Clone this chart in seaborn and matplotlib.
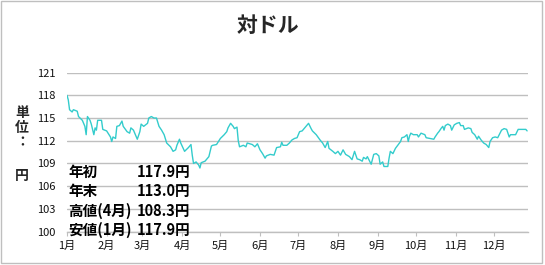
import matplotlib
matplotlib.use("Agg")
import matplotlib.pyplot as plt
from matplotlib.patches import Rectangle
import seaborn as sns
import pandas as pd

# ---- data ----
days = [0, 1, 2, 4, 5, 8, 9, 12, 13, 14, 15, 16, 18, 19, 21, 22, 23, 24, 27, 28,
        31, 34, 35, 36, 38, 39, 41, 43, 44, 47, 49, 50, 52, 55, 57, 58, 60, 63, 64, 66,
        68, 70, 72, 74, 76, 78, 81, 83, 85, 86, 88, 89, 92, 95, 97, 98, 99, 101, 103, 104,
        105, 108, 111, 113, 114, 117, 120, 123, 125, 126, 128, 130, 131, 133, 134, 135, 138, 140, 141, 145,
        147, 149, 151, 153, 155, 156, 159, 162, 164, 167, 168, 169, 172, 174, 176, 178, 180, 182, 184, 186,
        189, 191, 192, 195, 198, 200, 202, 204, 205, 208, 210, 212, 214, 216, 218, 221, 223, 225, 227, 229,
        231, 232, 234, 235, 238, 240, 242, 244, 245, 247, 248, 251, 252, 253, 255, 257, 261, 262, 264, 266,
        267, 268, 269, 271, 274, 275, 277, 280, 281, 284, 287, 288, 290, 291, 293, 294, 295, 296, 298, 300,
        301, 303, 305, 307, 308, 310, 311, 314, 316, 317, 319, 321, 322, 324, 326, 328, 330, 331, 333, 335,
        337, 340, 342, 344, 346, 347, 351, 353, 357, 359, 360]
rates = [118.0, 117.4, 116.1, 115.8, 116.1, 115.9, 115.2, 114.7, 114.3, 113.9, 112.8, 115.2, 114.7, 114.2, 112.8, 113.7, 113.4, 114.7, 114.7, 113.5,
         113.3, 112.5, 111.9, 112.5, 112.3, 113.9, 114.0, 114.6, 113.9, 113.2, 113.0, 113.7, 113.4, 112.2, 113.2, 114.2, 113.9, 114.3, 115.0, 115.2,
         115.0, 115.0, 113.9, 113.4, 112.8, 111.7, 111.2, 110.6, 110.8, 111.4, 112.2, 111.7, 110.6, 111.1, 111.5, 110.1, 109.0, 109.2, 108.8, 108.4,
         109.1, 109.3, 109.9, 111.3, 111.4, 111.5, 112.3, 112.8, 113.2, 113.7, 114.3, 113.9, 113.6, 113.8, 112.0, 111.2, 111.4, 111.2, 111.7, 111.5,
         111.2, 111.6, 110.8, 110.3, 109.7, 110.0, 110.2, 110.1, 111.1, 111.2, 111.8, 111.4, 111.4, 111.7, 112.1, 112.3, 112.4, 113.2, 113.3, 113.7,
         114.3, 113.6, 113.3, 112.8, 112.1, 111.7, 111.1, 111.9, 111.0, 110.6, 110.3, 110.6, 110.1, 110.8, 110.2, 109.9, 109.5, 110.6, 109.6, 109.5,
         109.3, 109.8, 109.6, 109.9, 108.9, 110.2, 110.3, 110.0, 108.9, 109.2, 108.6, 108.6, 109.7, 110.6, 110.3, 111.0, 111.9, 112.4, 112.5, 112.8,
         111.9, 112.6, 113.0, 112.8, 112.8, 112.5, 113.0, 112.8, 112.4, 112.3, 112.2, 112.5, 113.0, 113.2, 113.7, 113.9, 113.4, 114.0, 114.2, 114.0,
         113.4, 114.1, 114.3, 114.4, 114.0, 114.0, 113.5, 113.7, 113.6, 113.1, 112.8, 112.2, 112.6, 112.1, 111.7, 111.5, 111.1, 111.9, 112.4, 112.5,
         112.4, 113.4, 113.6, 113.5, 112.5, 112.8, 112.8, 113.5, 113.5, 113.5, 113.3]

month_labels = [f"{m}月" for m in range(1, 13)]
y_ticks = [100, 103, 106, 109, 112, 115, 118, 121]
title = "対ドル"
info_labels = ["年初", "年末", "高値(4月)", "安値(1月)"]
info_values = ["117.9円", "113.0円", "108.3円", "117.9円"]
unit_label = "単\n位\n："
unit_label2 = "円"

# ---- style ----
sns.set_style("white")
plt.rcParams["font.family"] = ["Noto Sans CJK JP", "DejaVu Sans"]

W, H = 545, 265
fig = plt.figure(figsize=(W / 100, H / 100), dpi=100)
ax = fig.add_axes([67 / W, 1 - 231.6 / H, (528 - 67) / W, (231.6 - 72.6) / H])

df = pd.DataFrame({"day": days, "rate": rates})
sns.lineplot(data=df, x="day", y="rate", ax=ax, color="#33CCCC", lw=1)

month_starts = list(pd.date_range("2005-01-01", periods=12, freq="MS").dayofyear - 1)
ax.set_xlim(0, 360.7)
ax.set_ylim(100, 121)
ax.set_xticks(month_starts)
ax.set_xticklabels(month_labels)
ax.set_yticks(y_ticks)
ax.set_yticklabels([str(v) for v in y_ticks])
ax.set_xlabel("")
ax.set_ylabel("")
ax.grid(axis="y", color="#BFBFBF", lw=1)
ax.grid(axis="x", visible=False)
for s in ["top", "right", "left"]:
    ax.spines[s].set_visible(False)
ax.spines["bottom"].set_color("#BFBFBF")
ax.spines["bottom"].set_linewidth(1)
ax.tick_params(axis="x", length=3, color="#BFBFBF", labelsize=8, pad=4, labelcolor="#111111", bottom=True)
ax.tick_params(axis="y", length=0, labelsize=8, pad=8, labelcolor="#111111")

# title
fig.text(268 / W, 1 - 25 / H, title, ha="center", va="center", fontsize=15, fontweight="bold")

# unit label
fig.text(22 / W, 1 - 128 / H, unit_label, ha="center", va="center", fontsize=10,
         fontweight="bold", linespacing=1.05)
fig.text(22 / W, 1 - 176 / H, unit_label2, ha="center", va="center", fontsize=10, fontweight="bold")

# info texts
row_y = [172, 191, 211, 230]
for lab, val, yy in zip(info_labels, info_values, row_y):
    fig.text(68 / W, 1 - yy / H, lab, ha="left", va="center", fontsize=10.5, fontweight="bold", color="black")
    fig.text(190 / W, 1 - yy / H, val, ha="right", va="center", fontsize=10.5, fontweight="bold", color="black")

# outer border
fig.patches.append(Rectangle((0.5 / W, 2 / H), 541 / W, (H - 2.5) / H,
                             transform=fig.transFigure, fill=False, ec="#BFBFBF", lw=1))

fig.savefig("out.png", dpi=100)
